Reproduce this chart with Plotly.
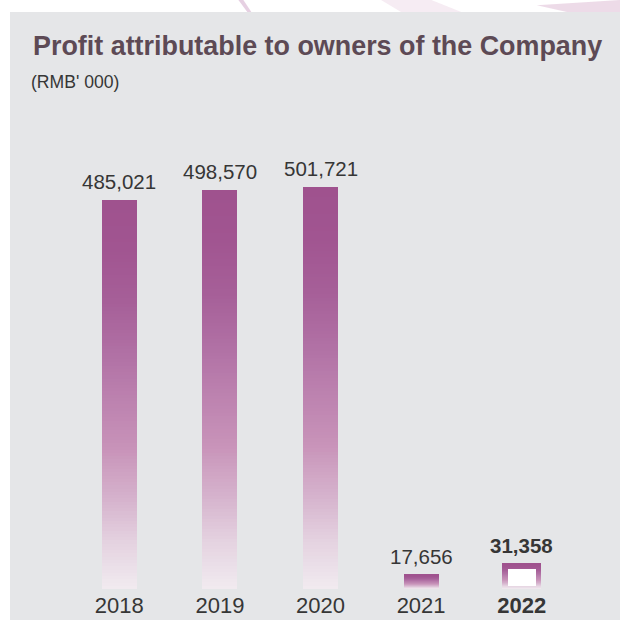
import plotly.graph_objects as go

# ---- data ----
years = ["2018", "2019", "2020", "2021", "2022"]
profit = [485021, 498570, 501721, 17656, 31358]
value_labels = ["485,021", "498,570", "501,721", "17,656", "<b>31,358</b>"]
tick_labels = ["2018", "2019", "2020", "2021", "<b>2022</b>"]

FONT = "Liberation Sans, Arial, Helvetica, sans-serif"
PANEL = "#e5e6e8"
TEXT = "#363636"

# vertical colour ramp of each bar: 0 = bottom, 1 = top
ramp = [
    (0.00, "#f1ebf0"),
    (0.12, "#e4d2e0"),
    (0.23, "#d6b3cd"),
    (0.36, "#c893b9"),
    (0.50, "#bb80ae"),
    (0.61, "#b070a4"),
    (0.74, "#a65f98"),
    (0.87, "#a15591"),
    (1.00, "#9f528e"),
]


def hex_rgb(h):
    h = h.lstrip("#")
    return tuple(int(h[i:i + 2], 16) for i in (0, 2, 4))


def ramp_color(f):
    for (f0, c0), (f1, c1) in zip(ramp[:-1], ramp[1:]):
        if f <= f1:
            t = (f - f0) / (f1 - f0) if f1 > f0 else 0
            a, b = hex_rgb(c0), hex_rgb(c1)
            r, g, bl = (round(a[i] + (b[i] - a[i]) * t) for i in range(3))
            return f"rgb({r},{g},{bl})"
    return ramp[-1][1]


widths = [0.348, 0.348, 0.348, 0.348, 0.39]

fig = go.Figure()

# gradient bars: layered bars, each covering from a fraction of the value up to the top
N = 120
for k in range(N):
    lo = k / N
    fig.add_trace(go.Bar(
        x=years,
        y=[v * (1 - lo) for v in profit],
        base=[v * lo for v in profit],
        width=widths,
        marker=dict(color=ramp_color((k + 0.5) / N), line=dict(width=0)),
        hoverinfo="skip",
        showlegend=False,
    ))

# 2022 is drawn as an outlined box: white interior
fig.add_trace(go.Bar(
    x=[years[4]],
    y=[profit[4] * 0.68],
    base=[profit[4] * 0.12],
    width=[0.28],
    marker=dict(color="#ffffff", line=dict(width=0)),
    hoverinfo="skip",
    showlegend=False,
))

annotations = []
for i, (v, lab) in enumerate(zip(profit, value_labels)):
    annotations.append(dict(
        x=i, y=v, xref="x", yref="y", text=lab, showarrow=False,
        yanchor="bottom", yshift=5,
        font=dict(family=FONT, size=20.5, color=TEXT),
    ))

annotations.append(dict(
    x=-0.0795, y=1.129, xref="paper", yref="paper", text="(RMB' 000)",
    showarrow=False, xanchor="left", yanchor="middle",
    font=dict(family=FONT, size=17.6, color=TEXT),
))

# background panel and faint decorative strokes above it
shapes = [
    dict(type="rect", xref="paper", yref="paper", x0=-0.1173, x1=1.1, y0=-0.2, y1=1.285,
         fillcolor=PANEL, line=dict(width=0), layer="below"),
    dict(type="path", xref="paper", yref="paper",
         path="M 0.3366 1.312 L 0.3466 1.312 L 0.3625 1.285 L 0.3545 1.285 Z",
         fillcolor="rgba(200,150,190,0.45)", line=dict(width=0), layer="below"),
    dict(type="path", xref="paper", yref="paper",
         path="M 0.62 1.312 L 0.72 1.312 L 0.78 1.285 L 0.66 1.285 Z",
         fillcolor="rgba(230,200,222,0.35)", line=dict(width=0), layer="below"),
    dict(type="path", xref="paper", yref="paper",
         path="M 0.93 1.30 L 1.1 1.312 L 1.1 1.285 L 0.99 1.285 Z",
         fillcolor="rgba(215,175,205,0.45)", line=dict(width=0), layer="below"),
]

fig.update_layout(
    width=620, height=620,
    margin=dict(l=69, r=48, t=140, b=31, autoexpand=False),
    paper_bgcolor="#ffffff",
    plot_bgcolor=PANEL,
    barmode="overlay",
    bargap=0,
    title=dict(
        text="<b>Profit attributable to owners of the Company</b>",
        xref="container", yref="container", x=33 / 620, y=1 - 46 / 620,
        xanchor="left", yanchor="middle",
        font=dict(family=FONT, size=26.9, color="#5d4a55"),
    ),
    xaxis=dict(
        type="category", categoryorder="array", categoryarray=years,
        tickvals=years, ticktext=tick_labels, automargin=False,
        showgrid=False, zeroline=False, showline=False, ticks="",
        ticklabelstandoff=1,
        tickfont=dict(family=FONT, size=22, color=TEXT),
        range=[-0.5, 4.5],
    ),
    yaxis=dict(
        range=[0, 560400], visible=False, showgrid=False, zeroline=False,
        automargin=False,
    ),
    annotations=annotations,
    shapes=shapes,
)

fig.write_html("out.html")
